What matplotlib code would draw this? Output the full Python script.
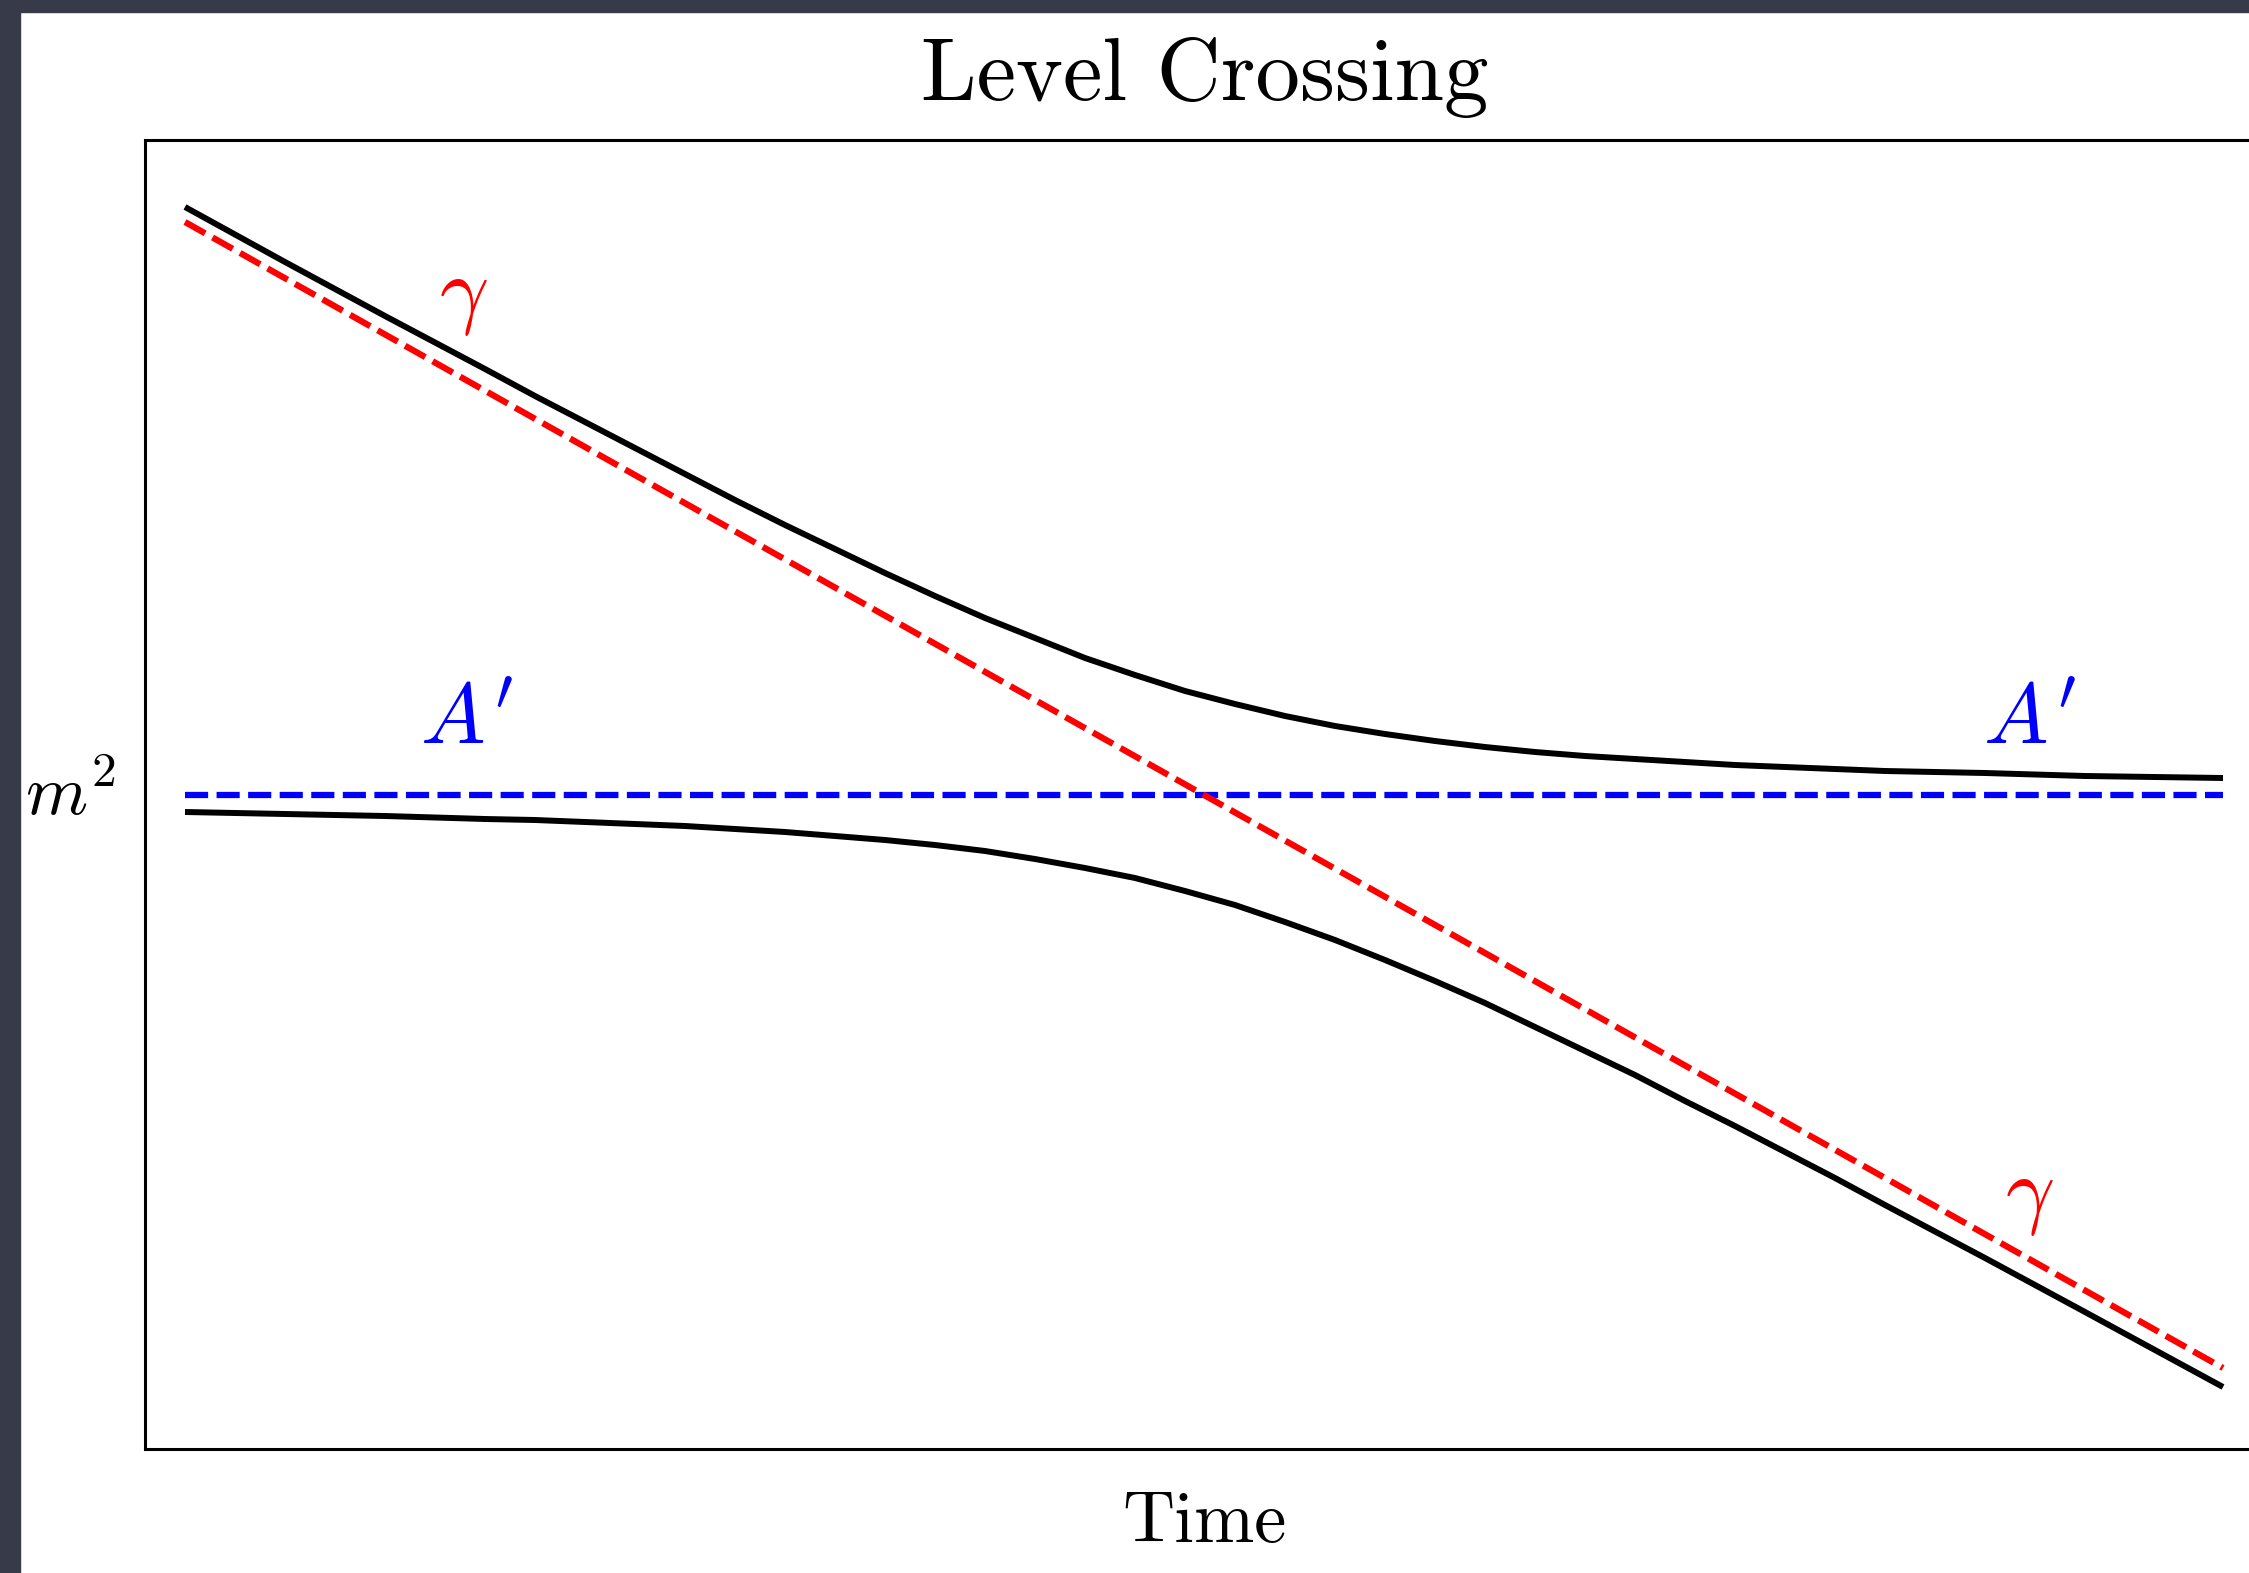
import matplotlib
matplotlib.use('Agg')
import matplotlib.pyplot as plt
from matplotlib.patches import Rectangle

plt.rcParams['mathtext.fontset'] = 'cm'

# time axis and the two mixed eigenvalue branches
t = [0, 1, 2, 3, 3.5, 4, 4.5, 5, 5.5, 6, 6.5, 7, 7.5, 8, 8.5, 9, 9.5, 10,
     10.5, 11, 11.5, 12, 12.5, 13, 13.5, 14, 14.5, 15, 15.5, 16, 16.5, 17,
     18, 19, 20.38]
upper = [5.88, 5.33, 4.79, 4.26, 3.99, 3.73, 3.47, 3.21, 2.95, 2.70, 2.46,
         2.22, 1.99, 1.77, 1.57, 1.37, 1.20, 1.04, 0.91, 0.79, 0.69, 0.61,
         0.54, 0.48, 0.43, 0.39, 0.36, 0.33, 0.30, 0.28, 0.26, 0.24, 0.22,
         0.19, 0.17]
lower = [-0.17, -0.19, -0.21, -0.24, -0.25, -0.27, -0.29, -0.31, -0.34,
         -0.37, -0.41, -0.45, -0.50, -0.56, -0.64, -0.73, -0.83, -0.96,
         -1.10, -1.27, -1.45, -1.65, -1.86, -2.08, -2.32, -2.56, -2.80,
         -3.06, -3.31, -3.57, -3.83, -4.10, -4.63, -5.17, -5.92]

# unmixed states: photon (falling) and dark photon (flat)
t_ends = [0, 20.38]
gamma_line = [5.73, -5.73]
aprime_line = [0, 0]

fig = plt.figure(figsize=(22.49, 15.73), dpi=100)
fig.patch.set_facecolor('white')

# dark frame on the left and top
frame = '#373b49'
fig.patches.append(Rectangle((0, 0), 20 / 2249, 1, transform=fig.transFigure,
                             color=frame, zorder=-1))
fig.patches.append(Rectangle((0, 1 - 12 / 1573), 1, 12 / 1573,
                             transform=fig.transFigure, color=frame, zorder=-1))

ax = fig.add_axes([145 / 2249, 1 - 1449 / 1573, 2119 / 2249, 1309 / 1573])

ax.plot(t, upper, color='black', lw=4.3, solid_capstyle='butt')
ax.plot(t, lower, color='black', lw=4.3, solid_capstyle='butt')
ax.plot(t_ends, aprime_line, color='blue', lw=4.5, dashes=(3.7, 1.35))
ax.plot(t_ends, gamma_line, color='red', lw=4.5, dashes=(3.7, 1.35))

ax.text(2.78, 4.98, r'$\gamma$', color='red', fontsize=62,
        ha='center', va='center')
ax.text(18.44, -4.02, r'$\gamma$', color='red', fontsize=62,
        ha='center', va='center')
ax.text(2.81, 0.75, r"$A'$", color='blue', fontsize=62,
        ha='center', va='center')
ax.text(18.44, 0.75, r"$A'$", color='blue', fontsize=62,
        ha='center', va='center')

ax.set_xlim(-0.4, 20.79)
ax.set_ylim(-6.54, 6.55)
ax.set_xticks([])
ax.set_yticks([])
for s in ax.spines.values():
    s.set_linewidth(2.2)

fig.text(1205 / 2249, 1 - 100 / 1573, 'Level Crossing', family='cmr10',
         fontsize=64, ha='center', va='baseline')
fig.text(1205 / 2249, 1 - 1542 / 1573, 'Time', family='cmr10',
         fontsize=52, ha='center', va='baseline')
fig.text(116 / 2249, 1 - 815 / 1573, r'$m^2$', fontsize=51,
         ha='right', va='baseline')

fig.savefig('out.png', dpi=100)
